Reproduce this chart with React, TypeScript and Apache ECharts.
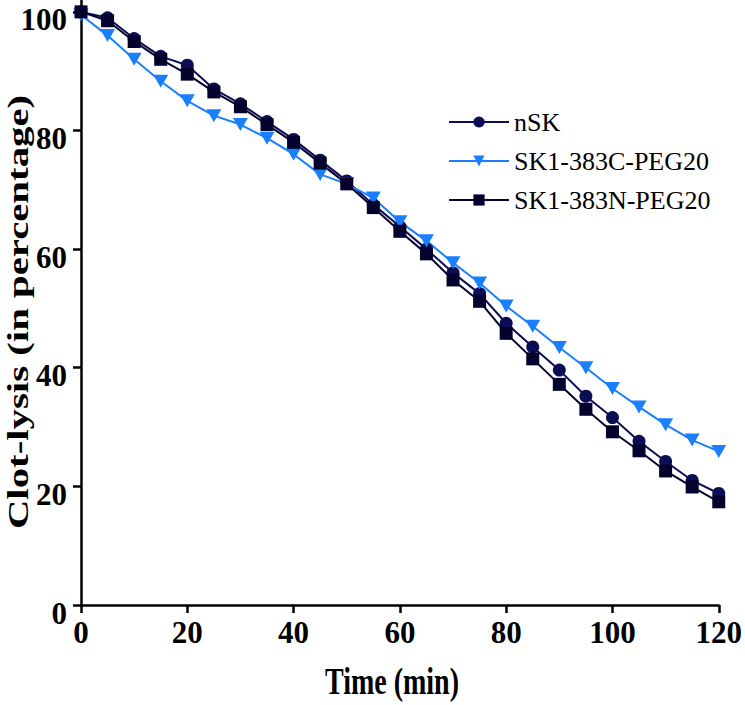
import React, { useEffect, useRef } from "react";
import * as echarts from "echarts";

const timeMin = [0, 5, 10, 15, 20, 25, 30, 35, 40, 45, 50, 55, 60, 65, 70, 75, 80, 85, 90, 95, 100, 105, 110, 115, 120];
const nSK = [100, 99, 95.5, 92.5, 91, 87, 84.5, 81.5, 78.5, 75, 71.5, 67.5, 63.8, 60, 56, 52.5, 47.5, 43.5, 39.6, 35.2, 31.6, 27.6, 24.2, 21, 18.8];
const sk383C = [99.5, 96, 92, 88.3, 85, 82.5, 81, 78.7, 76, 72.6, 71, 68.6, 64.6, 61.4, 57.7, 54.3, 50.4, 47, 43.4, 40, 36.5, 33.4, 30.4, 27.8, 25.9];
const sk383N = [100, 98.5, 95, 92, 89.5, 86.5, 84, 81, 78, 74.5, 71, 67, 63, 59.2, 54.8, 51.2, 45.8, 41.5, 37.2, 33, 29.2, 26, 22.6, 19.9, 17.4];

const yTicks = [0, 20, 40, 60, 80, 100];
const seriesNames = ["nSK", "SK1-383C-PEG20", "SK1-383N-PEG20"];
const xAxisTitle = "Time (min)";
const yAxisTitle = "Clot-lysis (in percentage)";

const SERIF = "Liberation Serif, Times New Roman, Times, serif";

export default function App() {
  const ref = useRef<HTMLDivElement>(null);

  useEffect(() => {
    if (!ref.current) return;
    const chart = echarts.init(ref.current, null, { renderer: "svg" });
    const pair = (arr: number[]) => timeMin.map((t, i) => [t, arr[i]]);
    const axisLabel = {
      fontFamily: SERIF,
      fontWeight: "bold" as const,
      fontSize: 31,
      color: "#000",
    };
    chart.setOption({
      animation: false,
      backgroundColor: "#fff",
      grid: { left: 81, right: 18, top: 0, bottom: 100, containLabel: false },
      xAxis: {
        type: "value",
        min: 0,
        max: 120,
        interval: 20,
        axisLine: { show: true, lineStyle: { color: "#000", width: 2.5 } },
        axisTick: { show: true, length: 8, lineStyle: { color: "#000", width: 2.5 } },
        splitLine: { show: false },
        axisLabel: { ...axisLabel, margin: 12 },
      },
      yAxis: {
        type: "value",
        min: 0,
        max: 102,
        axisLine: { show: true, lineStyle: { color: "#000", width: 2.5 } },
        axisTick: { show: true, length: 8, customValues: yTicks, lineStyle: { color: "#000", width: 2.5 } },
        splitLine: { show: false },
        axisLabel: {
          ...axisLabel,
          margin: 14,
          customValues: yTicks,
          verticalAlign: "top",
          lineHeight: 16,
        },
      },
      legend: {
        orient: "vertical",
        left: 448,
        top: 109,
        padding: 0,
        itemWidth: 60,
        itemHeight: 14,
        itemGap: 13,
        data: seriesNames,
        textStyle: { fontFamily: SERIF, fontSize: 26, color: "#000", lineHeight: 26 },
      },
      series: [
        {
          name: seriesNames[0],
          type: "line",
          data: pair(nSK),
          symbol: "circle",
          symbolSize: 13,
          lineStyle: { color: "#0d0d55", width: 2 },
          itemStyle: { color: "#0d0d55" },
        },
        {
          name: seriesNames[1],
          type: "line",
          data: pair(sk383C),
          symbol: "triangle",
          symbolRotate: 180,
          symbolSize: [15, 13],
          lineStyle: { color: "#1a7fff", width: 2 },
          itemStyle: { color: "#1a7fff" },
        },
        {
          name: seriesNames[2],
          type: "line",
          data: pair(sk383N),
          symbol: "rect",
          symbolSize: 13,
          lineStyle: { color: "#03032e", width: 2 },
          itemStyle: { color: "#03032e" },
        },
      ],
      graphic: [
        {
          type: "text",
          x: 392,
          y: 681,
          scaleY: 1.35,
          style: {
            text: xAxisTitle,
            fontFamily: SERIF,
            fontWeight: "bold",
            fontSize: 28,
            fill: "#000",
            textAlign: "center",
            textVerticalAlign: "middle",
          },
        },
        {
          type: "text",
          x: 18,
          y: 312,
          rotation: Math.PI / 2,
          scaleX: 1.36,
          style: {
            text: yAxisTitle,
            fontFamily: SERIF,
            fontWeight: "bold",
            fontSize: 30,
            fill: "#000",
            textAlign: "center",
            textVerticalAlign: "middle",
          },
        },
      ],
    });
    return () => chart.dispose();
  }, []);

  return (
    <div
      ref={ref}
      style={{ position: "fixed", left: 0, top: 0, width: 745, height: 705, background: "#fff" }}
    />
  );
}
